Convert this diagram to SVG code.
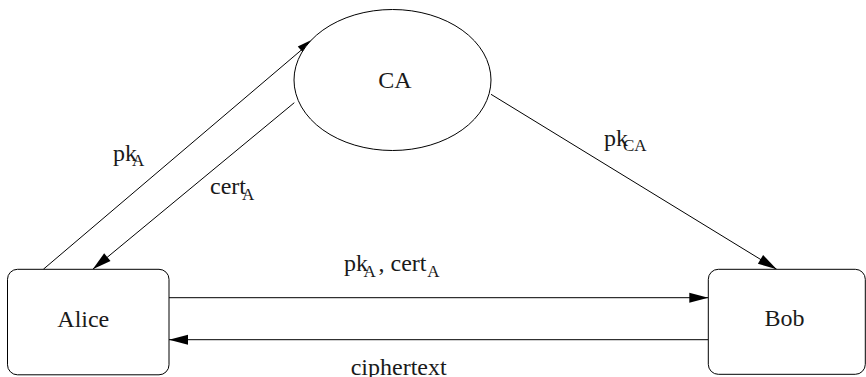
<svg xmlns="http://www.w3.org/2000/svg" width="866" height="377" viewBox="0 0 866 377">
  <style>
    .node { fill: #ffffff; stroke: #000000; stroke-width: 1; }
    .edge { fill: none; stroke: #000000; stroke-width: 1; }
    .lbl { font-family: 'Liberation Serif', 'Times New Roman', Times, serif; font-size: 24px; fill: #1a1a1a; }
    .sub { font-size: 17px; }
  </style>
  <defs>
    <marker id="arrow" markerUnits="userSpaceOnUse" markerWidth="20" markerHeight="10" refX="19" refY="5" orient="auto" overflow="visible">
      <path d="M0,0 L19,5 L0,10 z" fill="#000000"/>
    </marker>
  </defs>
  <rect width="866" height="377" fill="#ffffff"/>

  <!-- connectors and their labels -->
  <g id="connectors">
    <line class="edge" x1="43.3" y1="269.3" x2="315.5" y2="38" marker-end="url(#arrow)"/>
    <line class="edge" x1="294.3" y1="102.7" x2="92.7" y2="269.3" marker-end="url(#arrow)"/>
    <line class="edge" x1="491" y1="94.3" x2="776.7" y2="269.3" marker-end="url(#arrow)"/>
    <line class="edge" x1="169" y1="297.7" x2="708.3" y2="297.7" marker-end="url(#arrow)"/>
    <line class="edge" x1="708.3" y1="339.7" x2="169" y2="339.7" marker-end="url(#arrow)"/>

    <text class="lbl" x="113" y="161">pk<tspan class="sub" x="132" y="165.5">A</tspan></text>
    <text class="lbl" x="210" y="194">cert<tspan class="sub" x="242" y="200">A</tspan></text>
    <text class="lbl" x="604" y="146">pk<tspan class="sub" x="623" y="151">CA</tspan></text>
    <text class="lbl" x="344" y="271">pk<tspan class="sub" x="363.5" y="277">A</tspan><tspan x="378.5" y="271">, cert</tspan><tspan class="sub" x="427.3" y="277">A</tspan></text>
    <text class="lbl" x="350.7" y="375">ciphertext</text>
  </g>

  <!-- certificate authority -->
  <g id="ca">
    <ellipse class="node" cx="392.5" cy="80" rx="98.5" ry="70.5"/>
    <text class="lbl" x="378.3" y="88">CA</text>
  </g>

  <!-- Alice -->
  <g id="alice">
    <rect class="node" x="7.5" y="269.3" width="161.5" height="105.5" rx="10" ry="10"/>
    <text class="lbl" x="57.3" y="326.5">Alice</text>
  </g>

  <!-- Bob -->
  <g id="bob">
    <rect class="node" x="708.3" y="269.3" width="157" height="105" rx="10" ry="10"/>
    <text class="lbl" x="764.5" y="326">Bob</text>
  </g>
</svg>
